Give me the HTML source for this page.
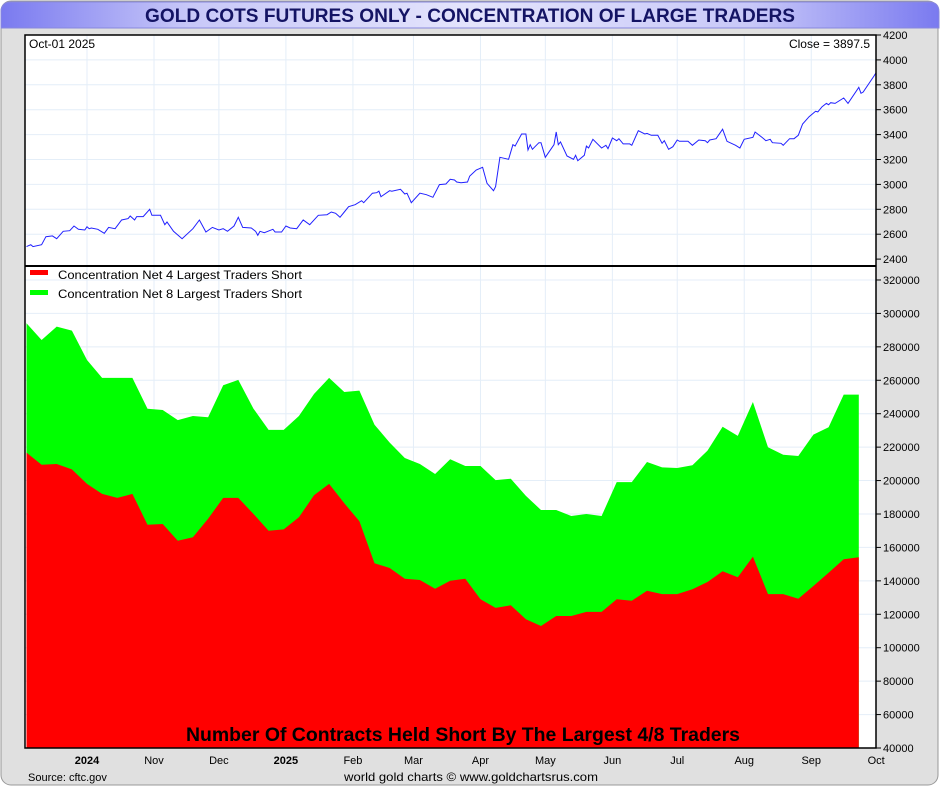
<!DOCTYPE html>
<html><head><meta charset="utf-8"><style>
body{margin:0;background:#fff;}
svg{display:block;font-family:"Liberation Sans",sans-serif;}
</style></head><body>
<svg id="chart" width="940" height="787" viewBox="0 0 940 787">
<defs>
<linearGradient id="tg" x1="0" x2="1" y1="0" y2="0">
<stop offset="0" stop-color="#7a7af0"/><stop offset="0.2" stop-color="#c8c8f8"/><stop offset="0.5" stop-color="#e4e4fc"/><stop offset="0.8" stop-color="#c8c8f8"/><stop offset="1" stop-color="#7a7af0"/>
</linearGradient>
</defs>
<rect x="1" y="1" width="937" height="784" rx="10" fill="#e0e0e0" stroke="#999"/>
<path d="M1,28 L1,12 Q1,2 11,2 L929,2 Q939,2 939,12 L939,28 Z" fill="url(#tg)" stroke="#8888dd"/>
<text x="145" y="22" font-size="19" font-weight="bold" fill="#141464" textLength="650" lengthAdjust="spacingAndGlyphs">GOLD COTS FUTURES ONLY - CONCENTRATION OF LARGE TRADERS</text>
<rect x="25" y="35" width="851" height="713" fill="#fff"/>
<g id="grid"></g>
<g id="marks"></g>
<rect x="25" y="35" width="851" height="713" fill="none" stroke="#000" stroke-width="1.5"/>
<line x1="25" y1="266" x2="876" y2="266" stroke="#000" stroke-width="2"/>
<g id="axes" font-size="11" fill="#000"></g>
<text x="29" y="48" font-size="12">Oct-01  2025</text>
<text x="870" y="48" font-size="12" text-anchor="end">Close = 3897.5</text>
<rect x="30" y="270" width="18" height="5" fill="#ff0000"/>
<text x="58" y="279" font-size="12" textLength="244" lengthAdjust="spacingAndGlyphs">Concentration Net 4 Largest Traders Short</text>
<rect x="30" y="290" width="18" height="5" fill="#00ff00"/>
<text x="58" y="298" font-size="12" textLength="244" lengthAdjust="spacingAndGlyphs">Concentration Net 8 Largest Traders Short</text>
<text x="186" y="741" font-size="19" font-weight="bold" textLength="554" lengthAdjust="spacingAndGlyphs">Number Of Contracts Held Short By The Largest 4/8 Traders</text>
<text x="28" y="781" font-size="11">Source: cftc.gov</text>
<text x="344" y="781" font-size="12" textLength="254" lengthAdjust="spacingAndGlyphs">world gold charts © www.goldchartsrus.com</text>
</svg>
<script>
const goldDays=[-28,-26,-25,-21,-19,-16,-14,-11,-8,-6,-4,-1,0,1,2,5,8,10,13,16,19,20,22,23,26,29,30,34,36,37,40,44,49,52,55,58,61,63,65,68,70,72,76,78,79,80,82,86,87,90,92,94,97,100,103,107,111,113,115,117,119,121,124,127,128,132,134,135,136,140,141,145,147,148,150,154,157,160,163,166,168,170,171,173,176,177,180,183,185,188,189,191,195,197,198,201,203,204,205,206,209,210,212,216,217,218,219,222,225,226,227,230,231,232,234,238,240,241,243,245,246,248,251,252,255,258,259,261,264,266,267,269,271,273,274,278,280,283,286,287,288,291,294,296,300,302,304,308,309,313,314,316,317,321,322,325,327,329,331,334,337,338,340,342,343,344,346,350,352,357,358,359,364,365];
const goldPrices=[2500,2516,2500,2516,2580,2586,2564,2623,2628,2666,2639,2634,2660,2644,2650,2639,2607,2655,2644,2714,2725,2746,2714,2741,2741,2800,2752,2752,2676,2698,2623,2564,2644,2714,2618,2655,2634,2644,2623,2666,2736,2655,2650,2623,2591,2623,2612,2639,2618,2618,2666,2650,2644,2714,2676,2752,2757,2778,2768,2736,2778,2821,2837,2869,2853,2929,2933,2945,2901,2949,2945,2961,2923,2929,2853,2929,2917,2896,2998,3003,3041,3035,3019,3014,3019,3067,3116,3137,3009,2949,2982,3218,3202,3319,3308,3405,3405,3276,3319,3282,3335,3335,3218,3319,3421,3319,3341,3228,3202,3234,3190,3234,3308,3292,3362,3292,3314,3287,3373,3351,3367,3325,3325,3314,3431,3405,3410,3394,3394,3330,3351,3282,3303,3357,3346,3346,3314,3357,3351,3335,3357,3367,3443,3346,3314,3292,3362,3378,3421,3367,3351,3362,3335,3330,3314,3367,3367,3394,3485,3544,3587,3582,3624,3651,3640,3656,3651,3694,3651,3780,3732,3742,3871,3897.5];
const cotStartDay=-28;
const top8=[294100,284100,292100,289700,272100,261400,261400,261400,243000,242200,236200,238600,237900,257000,260200,243000,230300,230300,238600,251800,261400,253000,253800,233400,222700,213500,209900,203900,212700,208700,208700,200300,201100,190800,182400,182400,178800,180000,178800,199100,199100,211100,207900,207500,209100,217900,232200,226700,247000,219900,215500,214700,227500,231900,251400,251400];
const top4=[216700,209500,209900,206700,198000,192000,189600,192000,173600,174000,164000,166100,177200,189600,189600,180000,170000,170800,178000,191200,198000,186400,175600,150500,147700,141300,140500,135300,140100,141300,129000,123800,125400,117000,113000,119000,119000,121400,121400,129000,128100,134100,132100,132100,135000,139300,145700,142100,154500,132100,132100,129300,136900,144900,152900,154100];
const goldTicks=[2400,2600,2800,3000,3200,3400,3600,3800,4000,4200];
const cotTicks=[40000,60000,80000,100000,120000,140000,160000,180000,200000,220000,240000,260000,280000,300000,320000];
const monthLabels=["2024","Nov","Dec","2025","Feb","Mar","Apr","May","Jun","Jul","Aug","Sep","Oct"];
const monthDays=[0,31,61,92,123,151,182,212,243,273,304,335,365];

const NS="http://www.w3.org/2000/svg";
function xDay(d){return 87+d*2.162;}
function yG(v){return 35+(4200-v)/200*24.9;}
function yC(v){return 748-(v-40000)/20000*33.43;}
function mk(tag,attrs,parent,txt){const e=document.createElementNS(NS,tag);for(const k in attrs)e.setAttribute(k,attrs[k]);if(txt!==undefined)e.textContent=txt;parent.appendChild(e);return e;}
const grid=document.getElementById('grid'),marks=document.getElementById('marks'),axes=document.getElementById('axes');
monthDays.forEach((d,i)=>{
  if(i<monthDays.length-1){const l=mk('line',{x1:xDay(d),x2:xDay(d),y1:35,y2:748,stroke:'#e4eef8'},grid);
  
  }
  const t=mk('text',{x:xDay(d),y:764,'text-anchor':'middle','font-weight':(monthLabels[i].length===4?'bold':'normal')},axes,monthLabels[i]);
  
  
});
goldTicks.forEach(v=>{
  const y=yG(v);
  if(v>2400&&v<4200){const l=mk('line',{x1:25,x2:876,y1:y,y2:y,stroke:'#e4eef8'},grid);
  
  }
  mk('line',{x1:876,x2:881,y1:y,y2:y,stroke:'#000'},axes);
  const t=mk('text',{x:883,y:y+4},axes,String(v));
  
  
});
cotTicks.forEach(v=>{
  const y=yC(v);
  if(v>40000){const l=mk('line',{x1:25,x2:876,y1:y,y2:y,stroke:'#e4eef8'},grid);
  
  }
  mk('line',{x1:876,x2:881,y1:y,y2:y,stroke:'#000'},axes);
  const t=mk('text',{x:883,y:y+4},axes,String(v));
  
  
});
function area(vals,color,name){
  let pts=vals.map((v,i)=>xDay(cotStartDay+7*i).toFixed(1)+','+yC(v).toFixed(1));
  const xl=xDay(cotStartDay+7*(vals.length-1)).toFixed(1),x0=xDay(cotStartDay).toFixed(1);
  const p=mk('polygon',{points:x0+',748 '+pts.join(' ')+' '+xl+',748',fill:color},marks);
  
  
}
area(top8,'#00ff00','area-net-8-largest');
area(top4,'#ff0000','area-net-4-largest');
const gp=mk('polyline',{points:goldDays.map((d,i)=>xDay(d).toFixed(1)+','+yG(goldPrices[i]).toFixed(1)).join(' '),fill:'none',stroke:'#2020ff','stroke-width':1},marks);


</script>
</body></html>
